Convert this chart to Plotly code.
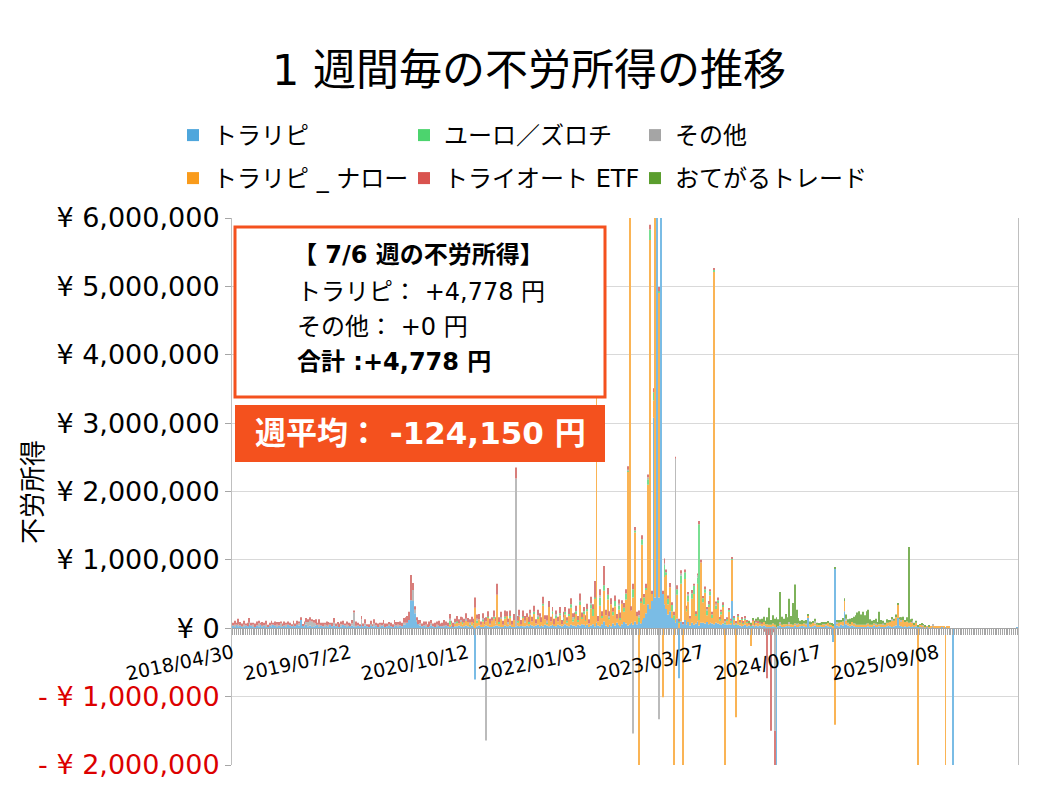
import pandas as pd
import plotly.graph_objects as go

# 週ごとの不労所得 (単位: 万円), 2018/04/30 週 ～ 2026/07/06 週
weeks = pd.date_range("2018-04-30", periods=428, freq="7D").strftime("%Y/%m/%d").tolist()

tick_labels = ["2018/04/30", "2019/07/22", "2020/10/12", "2022/01/03",
               "2023/03/27", "2024/06/17", "2025/09/08"]

y_ticks = [-2000000, -1000000, 0, 1000000, 2000000, 3000000, 4000000, 5000000, 6000000]
y_tick_text = ["- ¥ 2,000,000", "- ¥ 1,000,000", "¥ 0", "¥ 1,000,000", "¥ 2,000,000",
               "¥ 3,000,000", "¥ 4,000,000", "¥ 5,000,000", "¥ 6,000,000"]

torarepi = [
    4, 3, 5, 3, 4, 2, 3, 4, 3, 5, 4, 3, 2, 4, 3, 5, 3, 4, 3, 2, 4, 3, 5, 4, 3, 4, 2, 3, 4, 3, 5, 4,
    3, 4, 3, 5, 4, 12, 4, 3, 5, 3, 4, 2, 3, 4, 5, 3, 4, 3, 2, 4, 3, 5, 3, 4, 3, 4, 2, 3, 5, 4, 3, 4,
    3, 4, 3, 2, 4, 3, 5, 3, 4, 3, 2, 4, 3, 3, 4, 2, 3, 4, 3, 2, 3, 4, 3, 2, 3, 4, 3, 4, 3, 5, 6, 8,
    12, 41, 40, 22, 10, 6, 4, 3, 4, 3, 2, 3, 4, 3, 2, 3, 4, 3, 3, 2, 4, 3, 3, 4, 2, 3, 3, 4, 3, 2, 3, 4,
    3, 2, 4, 3, -75, 3, 4, 3, 2, 3, 4, 3, 3, 2, 3, 4, 4, 3, 2, 3, 4, 3, 3, 4, 3, 2, 3, 4, 3, 4, 3, 3,
    4, 3, 5, 4, 3, 4, 5, 3, 4, 3, 5, 4, 3, 4, 5, 4, 3, 5, 4, 3, 4, 6, 4, 3, 5, 4, 4, 3, 5, 4, 6, 5,
    3, 5, 2, 4, 6, 3, 8, 4, 3, 6, 10, 4, 2, 5, 3, 7, 4, 8, 5, 3, 6, 9, 7, 4, 6, 8, 5, 10, 6, 9, 7, 12,
    15, 22, 35, 28, 40, 308, 45, 700, 45, 700, 50, 35, 28, 20, 25, 15,
    12, 8, 14, -73, 10, 6, 12, 5, 9, 4, 8, 5, 7, 10, 4, 8,
    8, 7, 9, 6, 8, 7, 6, 8, 7, 6, 5, 7, 6, 5, 6, 5, 40, 5, 4, 5, 4, 3, 4, 5, 3, 4, 3, 4, 3, 4, 3, 4,
    3, 4, 3, 2, 3, 2, 3, 2, -250, 3, 4, 3, 2, 3, 4, 3, 2, 3, 4, 3, 2, 3, 4, 3, 2, 16, 3, 2, 3, 4, 3, 2,
    3, 2, 3, 4, 3, 2, 3, -20, 87, 4, 3, 5, 4, 25, 6, 4, 3, 4, 3, 2, 3, 2, 3, 2, 3, 2, 3, 2, 3, 4, 3, 2,
    3, 2, 3, 2, 3, 4, 3, 2, 3, 4, 15, 4, 3, 2, 3, 2, 3, 2, 3, 2, 3, 2, 2, 1, 2, 1, 2, 1, 1, 2, 1, 1,
    1, 1, 2, 1, 1, 1, 1, 0, -250, 0, 0, 0, 0, 0, 0, 0, 0, 0, 0, 0, 0, 0, 0, 0, 0, 0, 0, 0, 0, 0, 0, 0,
    0, 0, 0, 0, 0, 0, 0, 0, 0, 0, 0, 0.4778,
]

narrow = [
    0, 0, 0, 0, 0, 0, 0, 0, 0, 0, 0, 0, 0, 0, 0, 0, 0, 0, 0, 0, 0, 0, 0, 0, 0, 0, 0, 0, 0, 0, 0, 0,
    0, 0, 0, 0, 0, 0, 0, 0, 0, 0, 0, 0, 0, 0, 0, 0, 0, 0, 0, 0, 0, 0, 0, 0, 0, 0, 0, 0, 0, 0, 0, 0,
    0, 0, 0, 0, 0, 0, 0, 0, 0, 0, 0, 0, 0, 0, 0, 0, 0, 0, 0, 0, 0, 0, 0, 0, 0, 0, 0, 0, 0, 0, 0, 0,
    0, 0, 0, 0, 0, 0, 0, 0, 0, 0, 0, 0, 0, 0, 0, 0, 0, 0, 0, 0, 0, 0, 2, 3, 0, 4, 5, 3, 6, 4, 5, 8,
    6, 2, 5, 1, 30, 6, 9, 2, 8, 3, 6, 12, 2, 9, 11, 3, 45, 4, 12, 2, 10, 15, 3, 12, 2, 10, 0, 4, 14, 2, 12, 5,
    12, 4, 15, 6, 18, 3, 9, 14, 5, 30, 8, 3, 28, 6, 16, 2, 13, 5, 15, 3, 8, 14, 4, 16, 25, 6, 10, 18, 4, 30, 8, 16,
    8, 20, 5, 25, 12, 40, 350, 6, 30, 10, 45, 15, 40, 8, 32, 12,
    28, 6, 22, 10, 30, 15, 35, 225, 700, 18, 40, 130, 12, -250, 30, 110,
    20, 35, 175, 540, 10, 25, 700, 30, 446, 8, -101, 40, 50, 15, 35, 10,
    -250, 20, 35, 8, 55, -250, 60, 20, 30, 10, 35, 45, 12, 55, 8, 88,
    30, 45, 10, 25, 40, 8, 515, 20, 30, 5, 15, 25, -250, 6, 18, 4,
    61, 8, -130, 12, 4, 10, 3, 8, 6, 3, -26, 7, 2, 4, 6, 3,
    4, 5, 3, 4, 2, 3, 4, 3, 2, 0, 3, 2, 4, 3, 2, 3, 4, 2, 3, 2, 5, 3, 2, 4, 3, 2, 3, 4, 5, 3, 2, 3,
    3, 4, 2, 3, 5, 3, 2, 4, -141, 3, 5, 4, 6, 15, 5, 4, 3, 5, 4, 3, 2, 3, 2, 3, 2, 3, 4, 3, 2, 3, 2, 3,
    3, 4, 2, 3, 5, 4, 6, 10, 8, 12, 20, 9, 7, 10, 6, 8, 5, 7, 6, 4, 5, -250, 3, 4, 2, 2, 1, 2, 1, 2, 1, 1,
    1, 2, 1, 1, -250, 1, 1, 0, 0, 0, 0, 0, 0, 0, 0, 0, 0, 0, 0, 0, 0, 0, 0, 0, 0, 0, 0, 0, 0, 0, 0, 0,
    0, 0, 0, 0, 0, 0, 0, 0, 0, 0, 0, 0,
]

euro = [
    0, 0, 0, 0, 0, 0, 0, 0, 0, 0, 0, 0, 0, 0, 0, 0, 0, 0, 0, 0, 0, 0, 0, 0, 0, 0, 0, 0, 0, 0, 0, 0,
    0, 0, 0, 0, 0, 0, 0, 0, 0, 0, 0, 0, 0, 0, 0, 0, 0, 0, 0, 0, 0, 0, 0, 0, 0, 0, 0, 0, 0, 0, 0, 0,
    0, 0, 0, 0, 0, 0, 0, 0, 0, 0, 0, 0, 0, 0, 0, 0, 0, 0, 0, 0, 0, 0, 0, 0, 0, 0, 0, 0, 0, 0, 0, 0,
    0, 0, 0, 0, 0, 0, 0, 0, 0, 0, 0, 0, 0, 0, 0, 0, 0, 0, 0, 0, 0, 0, 6, 0, 0, 0, 2, 0, 0, 3, 0, 0,
    0, 2, 0, 3, 0, 2, 0, 0, 3, 0, 0, 2, 0, 0, 3, 0, 0, 2, 0, 0, 3, 0, 0, 2, 0, 0, 0, 3, 0, 0, 2, 0,
    0, 2, 0, 0, 3, 0, 2, 0, 0, 3, 0, 2, 0, 0, 4, 0, 2, 0, 3, 0, 2, 4, 3, 2, 5, 3, 2, 4, 3, 5, 2, 4,
    1, 3, 0, 6, 10, 2, 4, 0, 12, 2, 8, 0, 7, 3, 0, 5, 8, 0, 6, 2, 0, 6, 9, 1, 10, 0, 12, 3, 0, 7, 2, 8,
    10, 2, 8, 15, 0, 12, 3, 10, 2, 12, 0, 18, 4, 8, 0, 9, 7, 0, 8, 2, 12, 0, 10, 3, 9, 0, 8, 12, 2, 9, 140, 0,
    6, 5, 7, 4, 6, 5, 3, 5, 4, 3, 4, 2, 3, 2, 3, 2, 1, 2, 1, 2, 1, 1, 2, 1, 1, 0, 1, 0, 1, 0, 0, 1,
    0, 0, 0, 0, 0, 0, 0, 0, 0, 0, 0, 0, 0, 0, 0, 0, 0, 0, 0, 0, 0, 0, 0, 0, 0, 0, 0, 0, 0, 0, 0, 0,
    0, 0, 0, 0, 0, 0, 0, 0, 0, 0, 0, 0, 0, 0, 0, 0, 0, 0, 0, 0, 0, 0, 0, 0, 0, 0, 0, 0, 0, 0, 0, 0,
    0, 0, 0, 0, 0, 0, 0, 0, 0, 0, 0, 0, 0, 0, 0, 0, 0, 0, 0, 0, 0, 0, 0, 0, 0, 0, 0, 0, 0, 0, 0, 0,
    0, 0, 0, 0, 0, 0, 0, 0, 0, 0, 0, 0, 0, 0, 0, 0, 0, 0, 0, 0, 0, 0, 0, 0, 0, 0, 0, 0, 0, 0, 0, 0,
    0, 0, 0, 0, 0, 0, 0, 0, 0, 0, 0, 0,
]

other = [
    0, 2, 0, 3, 0, 1, 2, 0, 0, 3, 0, 2, 0, 0, 4, 0, 1, 0, 2, 0, 0, 3, 0, 0, 2, 0, 5, 0, 0, 2, 0, 0,
    0, 2, 0, 0, 3, 0, 0, 2, 4, 6, 7, 8, 5, 3, 0, 2, 0, 0, 3, 0, 2, 0, 0, 4, 0, 2, 0, 3, 0, 0, 2, 0,
    0, 3, 20, 2, 0, 0, 8, 0, 3, 0, 0, 2, 0, 4, 0, 0, 2, 0, 3, 0, 0, 2, 0, 0, 3, 0, 2, 0, 0, 3, 2, 0,
    0, 0, 16, 5, 2, 0, 3, 0, 0, 2, 0, 0, 3, 0, 0, 2, 0, 0, 0, 2, 0, 0, 3, 0, 0, 2, 0, 0, 3, 0, 0, 2,
    0, 2, 0, 0, 0, 3, 0, 0, 2, 0, -164, 0, 2, 0, 0, 3, 0, 0, 2, 0, 0, 0, 3, 0, 0, 0, 216, 0, 2, 0, 0, 3,
    0, 0, 2, 0, 0, 0, 3, 0, 0, 0, 0, 2, 0, 0, 0, 0, 3, 0, 0, 0, 2, 0, 0, 0, 0, 3, 0, 0, 0, 2, 0, 0,
    0, 0, 0, 2, 0, 0, 0, 0, 3, 0, 0, 0, 0, 2, 0, 0, 0, 0, 3, 0, 0, 0, 0, 2, 0, 0, -154, 0, 0, 3, 0, 0,
    0, 0, 3, 0, 0, 0, 0, 0, -133, 0, 0, 2, 0, 0, 0, 0, 0, 220, 0, 0, 3, 0, 0, 0, 2, 0, 0, 0, 0, 3, 0, 0,
    0, 0, 2, 0, 0, 0, 0, 3, 0, 0, 0, 0, 2, 0, 0, 0, 0, 0, 3, 0, 0, 0, 0, 2, 0, 0, 0, 0, 0, 2, 0, 0,
    0, 0, 0, 0, 0, 0, 0, -150, 0, 0, 2, 0, 0, 0, 0, 3, 0, 0, 0, 2, 0, 0, 0, 0, 2, 0, 0, 0, 0, 3, 0, 0,
    0, 0, 2, 0, 0, 0, 0, 0, 0, 2, 0, 0, 0, 0, 3, 0, 0, 0, 0, 2, 0, 0, 0, 0, 0, 2, 0, 0, 0, 0, 2, 0,
    0, 0, 2, 0, 0, 0, 0, 2, 0, 0, 0, 0, 2, 0, 0, 0, 0, 0, 2, 0, 0, 0, 0, 0, 1, 0, 0, 0, 0, 1, 0, 0,
    0, 0, 0, 0, 0, 0, 0, 0, 0, 0, 0, 0, 0, 0, 0, 0, 0, 0, 0, 0, 0, 0, 0, 0, 0, 0, 0, 0, 0, 0, 0, 0,
    0, 0, 0, 0, 0, 0, 0, 0, 0, 0, 0, 0,
]

etf = [
    4, 6, 3, 8, 5, 4, 6, 3, 5, 7, 4, 3, 5, 6, 4, 3, 5, 4, 6, 3, 4, 5, 3, 6, 4, 5, 3, 4, 6, 3, 5, 4,
    3, 5, 4, 6, 3, 4, 2, 5, 6, 4, 5, 3, 4, 6, 3, 8, 4, 5, 3, 6, 4, 3, 5, 7, 4, 3, 5, 4, 6, 3, 5, 4,
    4, 5, 3, 6, 4, 3, 5, 4, 6, 3, 4, 5, 3, 6, 4, 5, 3, 4, 6, 5, 4, 3, 5, 4, 6, 5, 4, 6, 5, 7, 8, 10,
    12, 37, 10, 5, 4, 6, 5, 4, 6, 5, 4, 7, 5, 4, 6, 5, 7, 4, 5, 8, 6, 5, 7, 4, 6, 5, 8, 6, 5, 7, 6, 8,
    6, 5, 8, 7, 15, 6, 8, 5, 7, 9, 6, 8, 7, 5, 9, 6, 16, 7, 8, 6, 9, 7, 5, 8, 6, 9, 16, 7, 8, 6, 9, 7,
    6, 8, 5, 7, 9, 6, 8, 5, 7, 10, 6, 8, 9, 7, 6, 8, 5, 7, 9, 6, 8, 7, 5, 8, 9, 6, 7, 8, 6, 10, 7, 6,
    7, 8, 6, 9, 7, 24, 6, 8, 9, 7, 28, 8, 10, 7, 9, 6, 8, 7, 6, 8, 5, 7, 6, 5, 7, 6, 8, 5, 6, 7, 5, 6,
    5, 6, 4, 7, 5, 6, 4, 5, 6, 4, 5, 7, 4, 5, 6, 4, 5, 3, 6, 4, 5, 3, 4, 5, 3, 4, 5, 3, 4, 3, 5, 4,
    3, 4, 3, 5, 3, 4, 2, 3, 4, 2, 3, 4, 2, 3, 2, 3, 2, 3, 2, 2, 3, 2, 1, 2, 1, 2, 1, 2, 1, 1, 2, 1,
    1, -5, -8, -73, -10, -150, -6, -100, -5, 0, 0, 0, 0, 0, 0, 0, 0, 0, 0, 0, 0, 0, 0, 0, 0, 0, 0, 0, 0, 0, 0, 0,
    0, 0, 0, 0, 0, 0, 0, 0, 0, 0, 0, 0, 0, 0, 0, 0, 0, 0, 0, 0, 0, 0, 0, 0, 0, 0, 0, 0, 0, 0, 0, 0,
    0, 0, 0, 0, 0, 0, 0, 0, 0, 0, 0, 0, 0, 0, 0, 0, 0, 0, 0, 0, 0, 0, 0, 0, 0, 0, 0, 0, 0, 0, 0, 0,
    0, 0, 0, 0, 0, 0, 0, 0, 0, 0, 0, 0, 0, 0, 0, 0, 0, 0, 0, 0, 0, 0, 0, 0, 0, 0, 0, 0, 0, 0, 0, 0,
    0, 0, 0, 0, 0, 0, 0, 0, 0, 0, 0, 0,
]

otegaru = [
    0, 0, 0, 0, 0, 0, 0, 0, 0, 0, 0, 0, 0, 0, 0, 0, 0, 0, 0, 0, 0, 0, 0, 0, 0, 0, 0, 0, 0, 0, 0, 0,
    0, 0, 0, 0, 0, 0, 0, 0, 0, 0, 0, 0, 0, 0, 0, 0, 0, 0, 0, 0, 0, 0, 0, 0, 0, 0, 0, 0, 0, 0, 0, 0,
    0, 0, 0, 0, 0, 0, 0, 0, 0, 0, 0, 0, 0, 0, 0, 0, 0, 0, 0, 0, 0, 0, 0, 0, 0, 0, 0, 0, 0, 0, 0, 0,
    0, 0, 0, 0, 0, 0, 0, 0, 0, 0, 0, 0, 0, 0, 0, 0, 0, 0, 0, 0, 0, 0, 0, 0, 0, 0, 0, 0, 0, 0, 0, 0,
    0, 0, 0, 0, 0, 0, 0, 0, 0, 0, 0, 0, 0, 0, 0, 0, 0, 0, 0, 0, 0, 0, 0, 0, 0, 0, 0, 0, 0, 0, 0, 0,
    0, 0, 0, 0, 0, 0, 0, 0, 0, 0, 0, 0, 0, 0, 0, 0, 0, 0, 0, 0, 0, 0, 0, 0, 0, 0, 0, 0, 0, 0, 0, 0,
    0, 0, 0, 0, 0, 0, 0, 0, 0, 0, 0, 0, 0, 0, 0, 0, 0, 0, 0, 0, 0, 0, 0, 0, 0, 0, 0, 0, 0, 0, 0, 0,
    0, 0, 0, 0, 0, 0, 0, 0, 0, 0, 0, 0, 0, 0, 0, 0, 0, 0, 0, 0, 0, 0, 0, 0, 0, 0, 0, 0, 0, 0, 0, 0,
    0, 0, 0, 0, 0, 0, 0, 0, 0, 0, 0, 0, 0, 0, 0, 0, 0, 0, 0, 0, 0, 0, 0, 0, 0, 2, 3, 2, 4, 3, 5, 4,
    6, 8, 5, 10, 25, 7, 12, 9, 14, 10, 44, 12, 8, 15, 10, 34, 12, 32, 57, 20, 8, 5, 6, 4, 5, 3, 4, 3, 2, 4, 3, 2,
    2, 3, 2, 1, 2, 3, 2, 1, 2, 3, 4, 3, 5, 4, 6, 5, 8, 6, 10, 12, 18, 20, 15, 19, 14, 18, 20, 8, 6, 5, 7, 4,
    18, 6, 4, 3, 5, 4, 3, 2, 3, 4, 2, 3, 4, 5, 3, 6, 111, 4, 3, 2, 3, 2, 1, 2, 1, 1, 0, 1, 0, 0, 0, 0,
    0, 0, 0, 0, 0, 0, 0, 0, 0, 0, 0, 0, 0, 0, 0, 0, 0, 0, 0, 0, 0, 0, 0, 0, 0, 0, 0, 0, 0, 0, 0, 0,
    0, 0, 0, 0, 0, 0, 0, 0, 0, 0, 0, 0,
]

for s in (torarepi, narrow, euro, other, etf, otegaru):
    assert len(s) == len(weeks), len(s)

FONT = "DejaVu Sans, Noto Sans CJK JP, sans-serif"
ACCENT = "#F4511E"

# 積み上げ順 (下から): 名前, 値, 凡例の色, 棒の色(細い棒は淡く見える), 凡例, 凡例順
series = [
    ("トラリピ", torarepi, "#4EA6DC", "#7ABCE5", "legend", 1),
    ("トラリピ _ ナロー", narrow, "#F99B1C", "#FAB455", "legend2", 4),
    ("ユーロ／ズロチ", euro, "#4CD46E", "#79DF92", "legend", 2),
    ("その他", other, "#A5A5A5", "#BBBBBB", "legend", 3),
    ("トライオート ETF", etf, "#D9534F", "#D87E7B", "legend2", 5),
    ("おてがるトレード", otegaru, "#5B9E2E", "#7DB25A", "legend2", 6),
]

fig = go.Figure()
for name, vals, color, bar_color, leg, rank in series:
    fig.add_trace(go.Bar(
        x=weeks, y=[v * 10000 for v in vals], name=name,
        marker=dict(color=bar_color, line=dict(width=0)),
        showlegend=False, legendgroup=name,
    ))
for name, vals, color, bar_color, leg, rank in series:
    # 凡例用
    fig.add_trace(go.Bar(
        x=[weeks[0]], y=[None], name=name,
        marker=dict(color=color, line=dict(width=0)),
        legend=leg, legendrank=rank, legendgroup=name, hoverinfo="skip",
    ))

# ページ余白 8px を差し引いた図の大きさ
OFF = 8
W, H = 1058 - 2 * OFF, 794 - 2 * OFF

# 画面上のプロット領域 (px) -> paper 座標
L, R, T, B = 232, 1018, 218, 765
def px(x):
    return (x - L) / (R - L)
def py(y):
    return (B - y) / (B - T)

fig.update_layout(
    width=W, height=H,
    margin=dict(l=L - OFF, r=W - (R - OFF), t=T - OFF, b=H - (B - OFF), autoexpand=False),
    plot_bgcolor="white", paper_bgcolor="white",
    barmode="relative", bargap=0.5,
    font=dict(family=FONT, color="black"),
    title=dict(text="1 週間毎の不労所得の推移", x=0.5, xref="container",
               y=1 - (70 - OFF) / H, yref="container", yanchor="middle",
               font=dict(size=43, color="black")),
    legend=dict(orientation="h", xref="container", yref="container",
                x=(173 - OFF) / W, y=1 - (113 - OFF) / H, xanchor="left", yanchor="top",
                entrywidth=186, font=dict(size=24), traceorder="normal"),
    legend2=dict(orientation="h", xref="container", yref="container",
                 x=(173 - OFF) / W, y=1 - (156 - OFF) / H, xanchor="left", yanchor="top",
                 entrywidth=186, font=dict(size=24), traceorder="normal"),
    showlegend=True,
)

fig.update_xaxes(
    type="category", range=[-0.5, len(weeks) - 0.5],
    tickvals=weeks, ticktext=[w if w in tick_labels else "" for w in weeks],
    tickangle=-12, tickfont=dict(size=19),
    ticks="outside", ticklen=6, tickwidth=1, tickcolor="#A6A6A6",
    showline=True, linecolor="#A6A6A6", showgrid=False,
    anchor="free", position=0.25,
)

fig.update_yaxes(
    range=[-2000000, 6000000], tickvals=y_ticks,
    ticktext=[f'<span style="color:#DC0000">{t}</span>' if v < 0 else t
              for v, t in zip(y_ticks, y_tick_text)],
    tickfont=dict(size=27), ticks="outside", ticklen=6, tickcolor="#A6A6A6",
    showgrid=True, gridcolor="#D9D9D9", zeroline=False,
    showline=True, mirror=True, linecolor="#BFBFBF",
)

fig.add_annotation(text="不労所得", xref="paper", yref="paper", x=px(33), y=py(492),
                   xanchor="center", yanchor="middle",
                   textangle=-90, showarrow=False, font=dict(size=26, color="black"))

# 今週の内訳ボックスと週平均
fig.add_shape(type="rect", xref="paper", yref="paper",
              x0=px(235), x1=px(605), y0=py(397), y1=py(227),
              line=dict(color=ACCENT, width=3), fillcolor="white", layer="above")
fig.add_shape(type="rect", xref="paper", yref="paper",
              x0=px(235), x1=px(605), y0=py(462), y1=py(405),
              line=dict(color=ACCENT, width=0), fillcolor=ACCENT, layer="above")

box_lines = [
    ("<b>【 7/6 週の不労所得】</b>", 418, 255, "center"),
    ("トラリピ： +4,778 円", 295, 292, "left"),
    ("その他： +0 円", 295, 327, "left"),
    ("<b>合計 :+4,778 円</b>", 295, 362, "left"),
]
for text, x, y, anchor in box_lines:
    fig.add_annotation(text=text, xref="paper", yref="paper", x=px(x), y=py(y),
                       xanchor=anchor, yanchor="middle", showarrow=False,
                       font=dict(size=24, color="black"))

fig.add_annotation(text="<b>週平均： -124,150 円</b>", xref="paper", yref="paper",
                   x=px(420), y=py(433), xanchor="center", yanchor="middle",
                   showarrow=False, font=dict(size=31, color="white"))

fig.write_html("out.html")
